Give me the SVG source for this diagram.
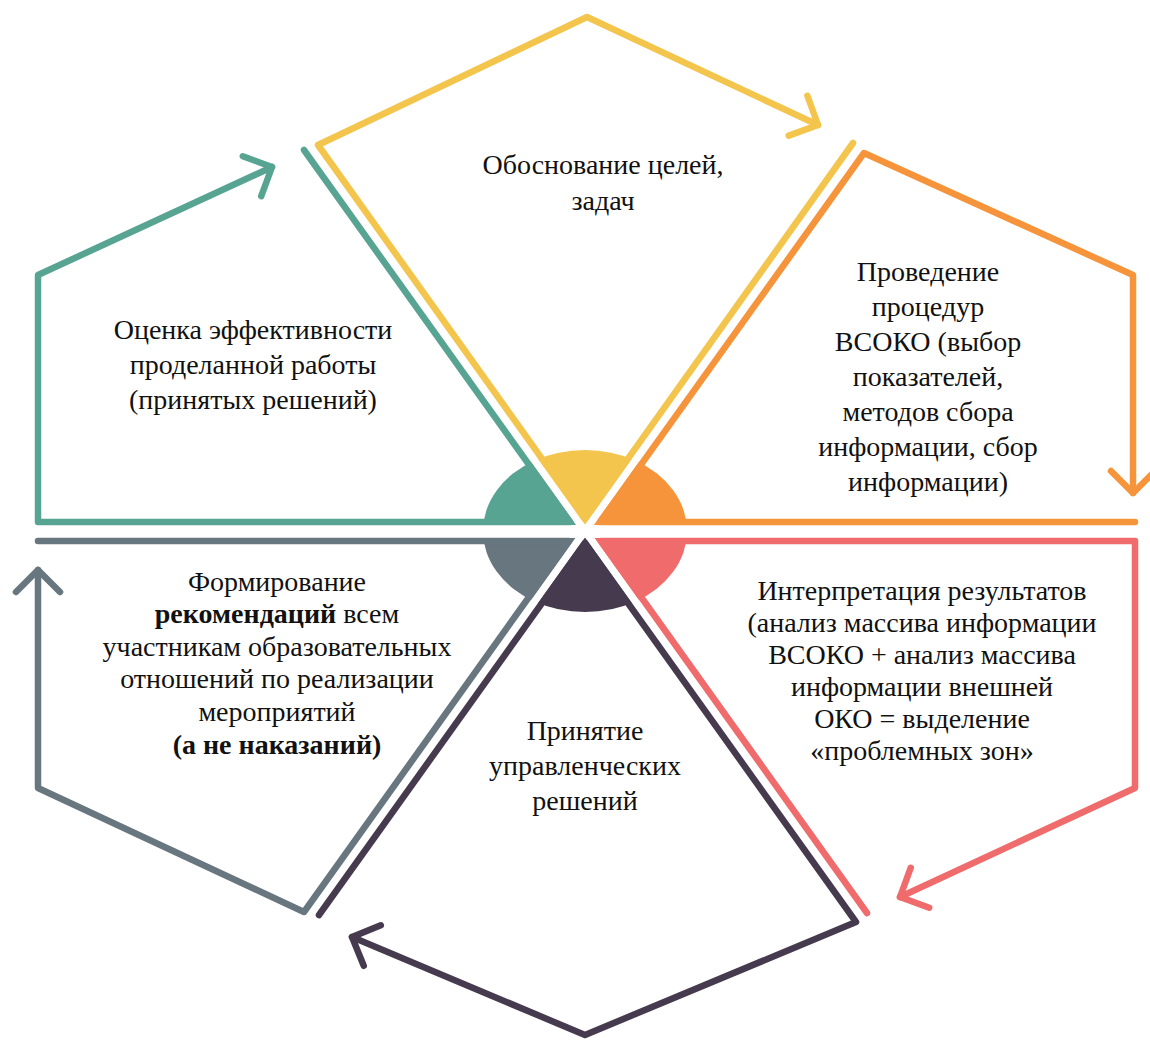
<svg xmlns="http://www.w3.org/2000/svg" width="1150" height="1045" viewBox="0 0 1150 1045">
<style>
.ln{fill:none;stroke-width:6.5;stroke-linecap:round;stroke-linejoin:round}
.ah{fill:none;stroke-width:6.5;stroke-linecap:round;stroke-linejoin:round}
.t{font-family:'Liberation Serif','Times New Roman',serif;font-size:28px;fill:#111;text-anchor:middle}
.b{font-weight:bold}
.gap{stroke:#fff;fill:none}
</style>
<defs>
<marker id="mY" markerUnits="userSpaceOnUse" orient="auto" markerWidth="60" markerHeight="60" refX="0" refY="0" viewBox="-30 -30 60 60" overflow="visible"><path class="ah" stroke="#F4C54C" d="M-22,-22 L0,0 L-22,22"/></marker>
<marker id="mO" markerUnits="userSpaceOnUse" orient="auto" markerWidth="60" markerHeight="60" refX="0" refY="0" viewBox="-30 -30 60 60" overflow="visible"><path class="ah" stroke="#F6943C" d="M-22,-22 L0,0 L-22,22"/></marker>
<marker id="mR" markerUnits="userSpaceOnUse" orient="auto" markerWidth="60" markerHeight="60" refX="0" refY="0" viewBox="-30 -30 60 60" overflow="visible"><path class="ah" stroke="#F06B6B" d="M-22,-22 L0,0 L-22,22"/></marker>
<marker id="mD" markerUnits="userSpaceOnUse" orient="auto" markerWidth="60" markerHeight="60" refX="0" refY="0" viewBox="-30 -30 60 60" overflow="visible"><path class="ah" stroke="#463A4E" d="M-22,-22 L0,0 L-22,22"/></marker>
<marker id="mG" markerUnits="userSpaceOnUse" orient="auto" markerWidth="60" markerHeight="60" refX="0" refY="0" viewBox="-30 -30 60 60" overflow="visible"><path class="ah" stroke="#68767F" d="M-22,-22 L0,0 L-22,22"/></marker>
<marker id="mT" markerUnits="userSpaceOnUse" orient="auto" markerWidth="60" markerHeight="60" refX="0" refY="0" viewBox="-30 -30 60 60" overflow="visible"><path class="ah" stroke="#58A492" d="M-22,-22 L0,0 L-22,22"/></marker>
</defs>
<rect width="1150" height="1045" fill="#fff"/>

<g id="hub">
<path fill="#F4C54C" d="M585,531 L534.7,460.5 A102,81 0 0 1 635.3,460.5 Z"/>
<path fill="#F6943C" d="M585,531 L635.3,460.5 A102,81 0 0 1 687,531 Z"/>
<path fill="#F06B6B" d="M585,531 L687,531 A102,81 0 0 1 635.3,601.5 Z"/>
<path fill="#463A4E" d="M585,531 L635.3,601.5 A102,81 0 0 1 534.7,601.5 Z"/>
<path fill="#68767F" d="M585,531 L534.7,601.5 A102,81 0 0 1 483,531 Z"/>
<path fill="#58A492" d="M585,531 L483,531 A102,81 0 0 1 534.7,460.5 Z"/>
<path class="gap" stroke-width="13" d="M470,531.5 H700"/>
<path class="gap" stroke-width="7.5" d="M502.5,415.5 L667.5,646.5 M667.5,415.5 L502.5,646.5"/>
</g>

<g id="connectors">
<path class="ln" stroke="#F4C54C" marker-end="url(#mY)" d="M853,143 L585,519 L318,145 L587,17 L818,125"/>
<path class="ln" stroke="#F6943C" marker-end="url(#mO)" d="M1135,522 L600,522 L864,153 L1133,275 L1133,493"/>
<path class="ln" stroke="#F06B6B" marker-end="url(#mR)" d="M867,913 L601,541 L1135,541 L1135,788 L900,897"/>
<path class="ln" stroke="#463A4E" marker-end="url(#mD)" d="M319,915 L585,543 L856,922 L585,1035 L352,937"/>
<path class="ln" stroke="#68767F" marker-end="url(#mG)" d="M38,541 L569,541 L304,912 L38,788 L38,570"/>
<path class="ln" stroke="#58A492" marker-end="url(#mT)" d="M304,150 L570,522 L38,522 L38,275 L272,167"/>
</g>

<g id="node-goals" class="t">
<text x="603" y="174">Обоснование целей,</text>
<text x="603" y="210">задач</text>
</g>

<g id="node-procedures" class="t">
<text x="928" y="281">Проведение</text>
<text x="928" y="316">процедур</text>
<text x="928" y="351">ВСОКО (выбор</text>
<text x="928" y="386">показателей,</text>
<text x="928" y="421">методов сбора</text>
<text x="928" y="456">информации, сбор</text>
<text x="928" y="491">информации)</text>
</g>

<g id="node-interpretation" class="t">
<text x="922" y="600">Интерпретация результатов</text>
<text x="922" y="632">(анализ массива информации</text>
<text x="922" y="664">ВСОКО + анализ массива</text>
<text x="922" y="696">информации внешней</text>
<text x="922" y="728">ОКО = выделение</text>
<text x="922" y="760">«проблемных зон»</text>
</g>

<g id="node-decisions" class="t">
<text x="585" y="740">Принятие</text>
<text x="585" y="775">управленческих</text>
<text x="585" y="810">решений</text>
</g>

<g id="node-recommendations" class="t">
<text x="277" y="591">Формирование</text>
<text x="277" y="623"><tspan class="b">рекомендаций</tspan> всем</text>
<text x="277" y="656">участникам образовательных</text>
<text x="277" y="688">отношений по реализации</text>
<text x="277" y="721">мероприятий</text>
<text class="b" x="277" y="754">(а не наказаний)</text>
</g>

<g id="node-evaluation" class="t">
<text x="253" y="339">Оценка эффективности</text>
<text x="253" y="374">проделанной работы</text>
<text x="253" y="409">(принятых решений)</text>
</g>
</svg>
